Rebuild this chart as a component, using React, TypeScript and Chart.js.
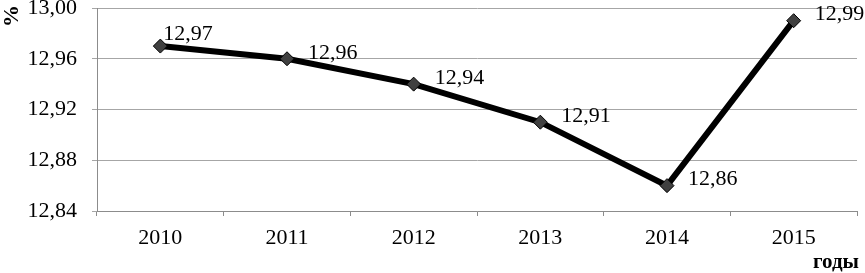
import React, { useEffect, useRef } from "react";
import { Chart, registerables } from "chart.js";

Chart.register(...registerables);

const years = ["2010", "2011", "2012", "2013", "2014", "2015"];
const values = [12.97, 12.96, 12.94, 12.91, 12.86, 12.99];
const yTitle = "%";
const xTitle = "годы";

const FONT = "'Liberation Serif', 'Times New Roman', serif";

const fmt = (v: number) => v.toFixed(2).replace(".", ",");

const labelPlugin = {
  id: "labels",
  afterDatasetsDraw(chart: any) {
    const ctx = chart.ctx;
    const meta = chart.getDatasetMeta(0);
    ctx.save();
    ctx.font = `22px ${FONT}`;
    ctx.fillStyle = "#000";
    ctx.textBaseline = "middle";
    ctx.textAlign = "left";
    meta.data.forEach((pt: any, i: number) => {
      const first = i === 0;
      const dx = first ? 3 : 21;
      const dy = first ? -12 : -6;
      ctx.fillText(fmt(values[i]), pt.x + dx, pt.y + dy);
    });
    ctx.restore();
  },
  afterDraw(chart: any) {
    const ctx = chart.ctx;
    ctx.save();
    ctx.fillStyle = "#000";
    ctx.font = `bold 22px ${FONT}`;
    ctx.translate(12, 16);
    ctx.rotate(-Math.PI / 2);
    ctx.textAlign = "center";
    ctx.textBaseline = "middle";
    ctx.fillText(yTitle, 0, 0);
    ctx.restore();
    ctx.save();
    ctx.fillStyle = "#000";
    ctx.font = `bold 21px ${FONT}`;
    ctx.textAlign = "right";
    ctx.textBaseline = "alphabetic";
    ctx.fillText(xTitle, 859, 268);
    ctx.restore();
  },
};

export default function App() {
  const ref = useRef<HTMLCanvasElement>(null);
  useEffect(() => {
    if (!ref.current) return;
    const chart = new Chart(ref.current, {
      type: "line",
      data: {
        labels: years,
        datasets: [
          {
            data: values,
            borderColor: "#000",
            borderWidth: 6,
            pointStyle: "rectRot",
            pointRadius: 7,
            pointBackgroundColor: "#404040",
            pointBorderColor: "#000",
            pointBorderWidth: 1,
            tension: 0,
          },
        ],
      },
      options: {
        animation: false,
        responsive: false,
        devicePixelRatio: 1,
        layout: { padding: { top: 8, right: 7, left: 0, bottom: 0 } },
        plugins: { legend: { display: false }, tooltip: { enabled: false } },
        scales: {
          x: {
            offset: true,
            grid: {
              display: true,
              offset: true,
              drawOnChartArea: false,
              drawTicks: true,
              tickLength: 5,
              color: "#8c8c8c",
            },
            border: { display: true, color: "#8c8c8c", width: 1 },
            ticks: {
              color: "#000",
              font: { family: FONT, size: 22 },
              padding: 9,
              maxRotation: 0,
            },
            afterFit(scale: any) {
              scale.height = 62;
              scale.paddingLeft = 0;
              scale.paddingRight = 0;
            },
          },
          y: {
            min: 12.84,
            max: 13.0,
            grid: {
              color: "#a6a6a6",
              tickLength: 5,
              lineWidth: 1,
            },
            border: { display: true, color: "#8c8c8c", width: 1 },
            ticks: {
              stepSize: 0.04,
              color: "#000",
              font: { family: FONT, size: 22 },
              padding: 15,
              callback: (v: any) => fmt(Number(v)),
            },
            afterFit(scale: any) {
              scale.width = 97;
              scale.paddingTop = 0;
              scale.paddingBottom = 0;
            },
          },
        },
      },
      plugins: [labelPlugin],
    } as any);
    return () => chart.destroy();
  }, []);
  return (
    <div style={{ position: "fixed", left: 0, top: 0, width: 865, height: 273, background: "#fff" }}>
      <canvas ref={ref} width={865} height={273} style={{ width: 865, height: 273 }} />
    </div>
  );
}
